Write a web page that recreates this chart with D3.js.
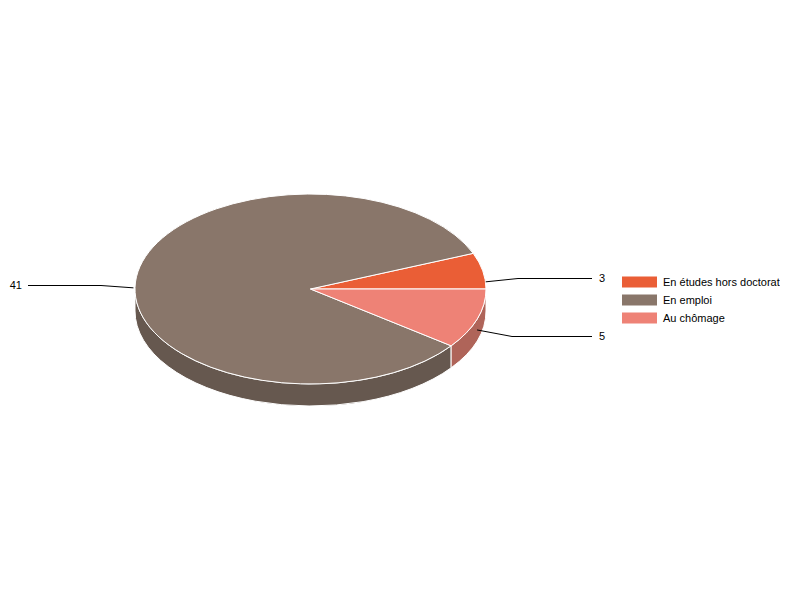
<!DOCTYPE html>
<html>
<head>
  <meta charset="utf-8">
  <title>Pie</title>
  <script src="https://d3js.org/d3.v7.min.js"></script>
  <style>
    html, body { margin: 0; padding: 0; background: #fff; }
    text { font-family: "Liberation Sans", Arial, sans-serif; font-size: 11px; fill: #000; }
    .labels { opacity: 0.999; }
  </style>
</head>
<body>
<script type="text/javascript">

  var categories = ["En études hors doctorat", "En emploi", "Au chômage"];
  var values = [3, 41, 5];
  var colors = ["#ea5e36", "#89766a", "#ee8276"];
  var sideColors = ["#a5412a", "#66584f", "#af6459"];

  var w = 800;
  var h = 600;
  var cx = 310.5;
  var cy = 289;
  var rx = 175.5;
  var ry = 95;
  var depth = 22;

  // tick out from the slice, then the flat run to the label
  var tickGap = [3, 3, 0];
  var elbowX = [518, 101, 512];
  var elbowY = [278, 285, 336];
  var lineEndX = [592, 28, 592];
  var labelX = [599, 22, 599];

  var svg = d3.select("body").append("svg")
          .attr("width", w)
          .attr("height", h)
          .style("display", "block");

  var pie = d3.pie().sort(null)
          .startAngle(Math.PI / 2)
          .endAngle(Math.PI / 2 - 2 * Math.PI);
  var arcs = pie(values);

  var arc = d3.arc().innerRadius(0).outerRadius(rx);

  function px(a, r) { return Math.sin(a) * (r || rx); }
  function py(a, r) { return -Math.cos(a) * (r || ry); }

  // outer wall of a slice, only the part on the front half of the ellipse
  function wall(d) {
    var a = Math.min(d.startAngle, d.endAngle);
    var b = Math.max(d.startAngle, d.endAngle);
    while (a < 0) { a += 2 * Math.PI; b += 2 * Math.PI; }
    a = Math.max(a, Math.PI / 2);
    b = Math.min(b, 3 * Math.PI / 2);
    if (b - a < 0.001) return null;
    var rad = " " + rx + " " + ry + " 0 0 ";
    return "M" + px(a) + "," + py(a) +
      "A" + rad + "1 " + px(b) + "," + py(b) +
      "L" + px(b) + "," + (py(b) + depth) +
      "A" + rad + "0 " + px(a) + "," + (py(a) + depth) + "Z";
  }

  var g = svg.append("g").attr("transform", "translate(" + cx + "," + cy + ")");

  g.selectAll("path.side")
    .data(arcs)
    .enter()
    .append("path")
    .attr("class", "side")
    .attr("d", wall)
    .attr("fill", function(d, i){ return sideColors[i]; })
    .attr("stroke", "#fff")
    .attr("stroke-width", 1);

  g.selectAll("path.top")
    .data(arcs)
    .enter()
    .append("path")
    .attr("class", "top")
    .attr("d", arc)
    .attr("transform", "scale(1," + (ry / rx) + ")")
    .attr("fill", function(d, i){ return colors[i]; })
    .attr("stroke", "#fff")
    .attr("stroke-width", 1)
    .attr("vector-effect", "non-scaling-stroke");

  // callouts, anchored at each slice's mid angle
  var line = d3.line();
  svg.selectAll("path.callout")
    .data(arcs)
    .enter()
    .append("path")
    .attr("class", "callout")
    .attr("fill", "none")
    .attr("stroke", "#000")
    .attr("stroke-width", 1)
    .attr("d", function(d, i){
      var m = (d.startAngle + d.endAngle) / 2;
      return line([
        [cx + px(m, rx + tickGap[i]), cy + py(m) + depth / 2],
        [elbowX[i], elbowY[i] + 0.5],
        [lineEndX[i], elbowY[i] + 0.5]
      ]);
    });

  var labels = svg.append("g").attr("class", "labels");

  labels.selectAll("text.value")
    .data(arcs)
    .enter()
    .append("text")
    .attr("class", "value")
    .attr("x", function(d, i){ return labelX[i]; })
    .attr("y", function(d, i){ return elbowY[i]; })
    .attr("dy", "0.35em")
    .attr("text-anchor", function(d, i){ return labelX[i] < cx ? "end" : "start"; })
    .text(function(d){ return d.data; });

  // legend
  var legendY = d3.scaleBand().domain(categories).range([276, 330]);

  svg.selectAll("rect.swatch")
    .data(categories)
    .enter()
    .append("rect")
    .attr("class", "swatch")
    .attr("x", 622)
    .attr("y", function(d){ return legendY(d) + 0.5; })
    .attr("width", 35)
    .attr("height", 11)
    .attr("fill", function(d, i){ return colors[i]; });

  labels.selectAll("text.legend")
    .data(categories)
    .enter()
    .append("text")
    .attr("class", "legend")
    .attr("x", 663)
    .attr("y", function(d){ return legendY(d) + 6; })
    .attr("dy", "0.35em")
    .text(function(d){ return d; });

</script>
</body>
</html>
